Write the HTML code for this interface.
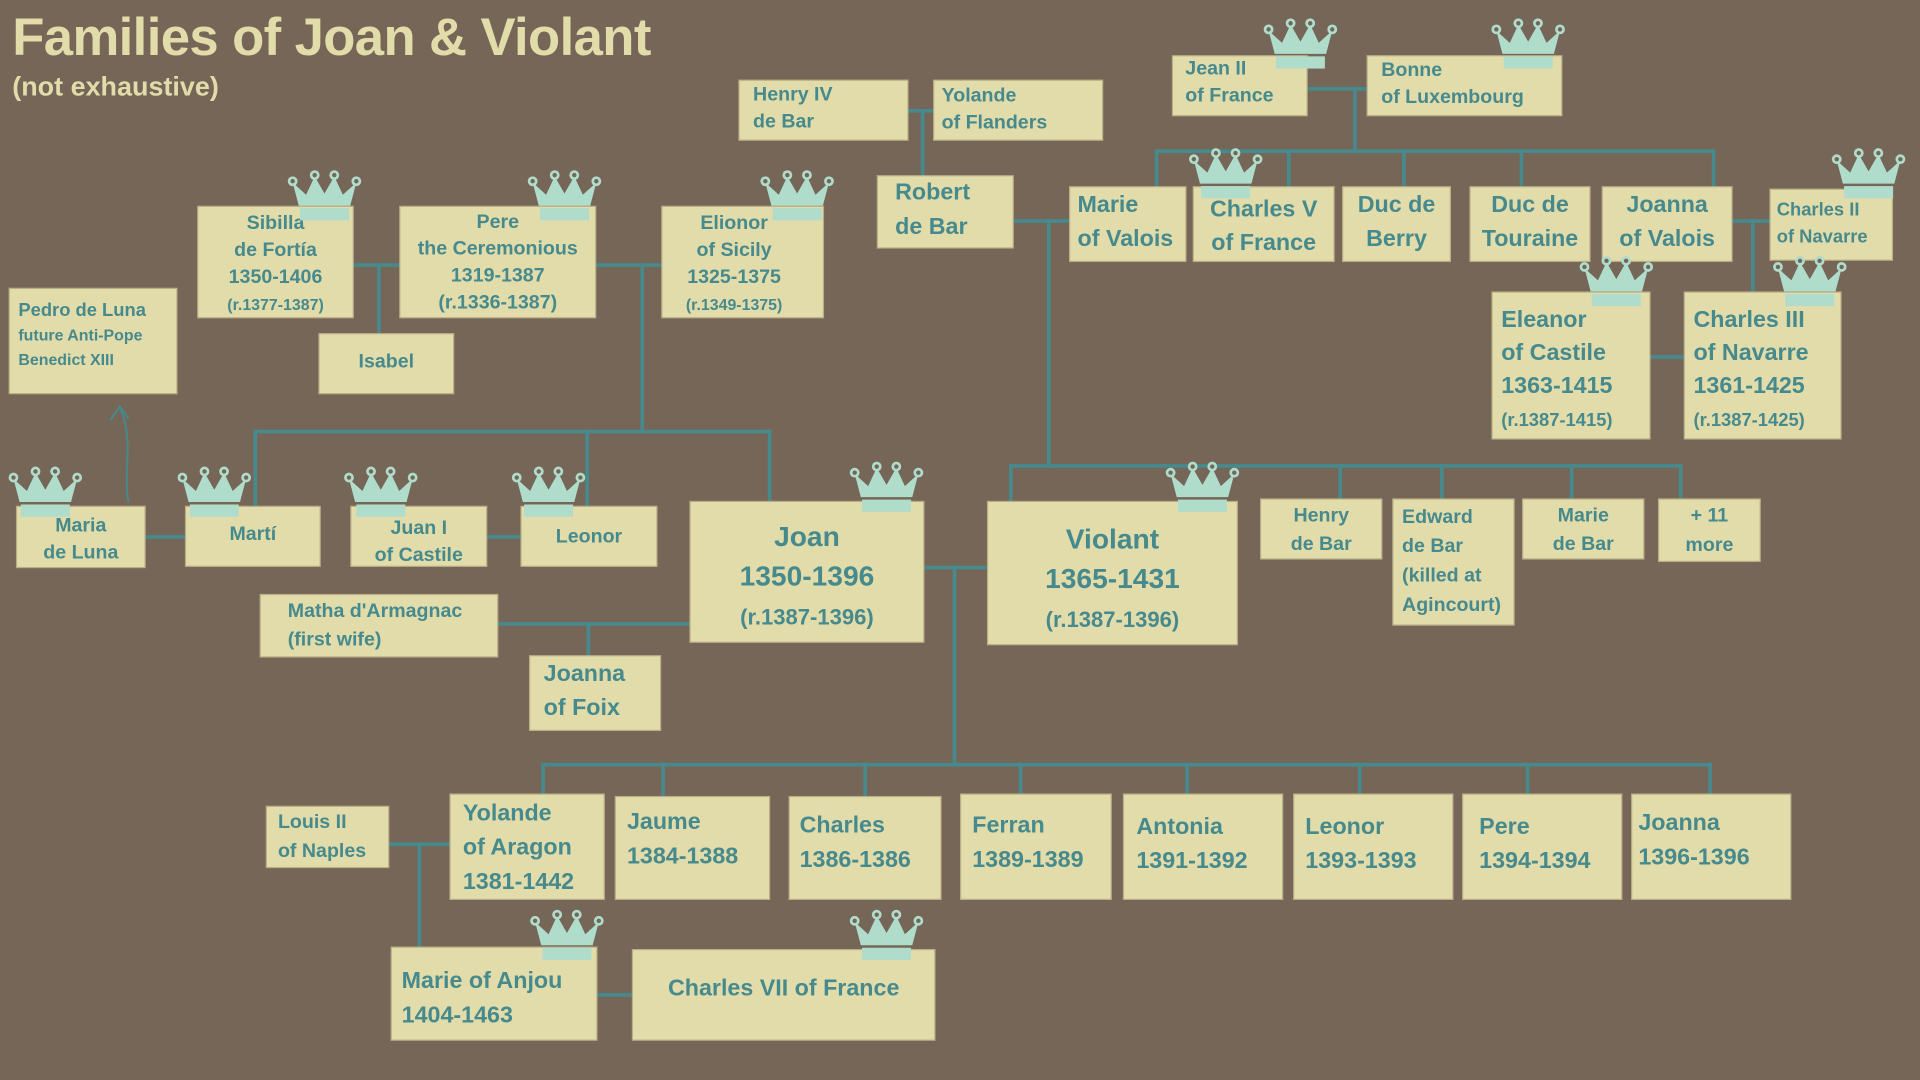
<!DOCTYPE html>
<html><head><meta charset="utf-8"><style>
html,body{margin:0;padding:0;background:#756657;width:1920px;height:1080px;overflow:hidden}
#s{position:absolute;left:0;top:0;width:1568px;height:882px;transform:scale(1.22449);transform-origin:0 0;font-family:"Liberation Sans",sans-serif;font-weight:bold}
.b{position:absolute;background:#e2dcaa;box-shadow:0 0 0 1px #b9ae86;color:#468a8d;box-sizing:border-box;white-space:nowrap;overflow:visible}
.c{text-align:center}
.l{position:absolute;background:#468a8d}
svg.cr{position:absolute;width:62px;height:44px;overflow:visible}
</style></head><body><div id="s">
<svg width="0" height="0" style="position:absolute"><defs><symbol id="cr" viewBox="0 0 62 44"><polygon points="10,30 52,30 57,11 46,21 39,6 31,20 23,6 16,21 5,11" fill="#b0dccc"/><g fill="#b0dccc"><circle cx="5" cy="10" r="4"/><circle cx="23" cy="5" r="4"/><circle cx="39" cy="5" r="4"/><circle cx="57" cy="10" r="4"/></g><g fill="#756657"><circle cx="5" cy="10" r="1.8"/><circle cx="23" cy="5" r="1.8"/><circle cx="39" cy="5" r="1.8"/><circle cx="57" cy="10" r="1.8"/></g><rect x="11" y="32" width="40" height="10" fill="#b0dccc"/></symbol></defs></svg>

<div style="position:absolute;left:10px;top:7px;color:#e2dcaa;font-size:43px;letter-spacing:-0.5px">Families of Joan &amp; Violant</div>
<div style="position:absolute;left:10px;top:58px;color:#e2dcaa;font-size:22px">(not exhaustive)</div>

<!-- lines -->
<div class="l" style="left:741px;top:89px;width:22px;height:3px"></div>
<div class="l" style="left:752px;top:89px;width:3px;height:56px"></div>
<div class="l" style="left:1067px;top:71px;width:50px;height:3px"></div>
<div class="l" style="left:1105px;top:71px;width:3px;height:54px"></div>
<div class="l" style="left:943px;top:122px;width:458px;height:3px"></div>
<div class="l" style="left:943px;top:122px;width:3px;height:32px"></div>
<div class="l" style="left:1051px;top:122px;width:3px;height:32px"></div>
<div class="l" style="left:1145px;top:122px;width:3px;height:32px"></div>
<div class="l" style="left:1241px;top:122px;width:3px;height:32px"></div>
<div class="l" style="left:1398px;top:122px;width:3px;height:32px"></div>
<div class="l" style="left:827px;top:179px;width:47px;height:3px"></div>
<div class="l" style="left:855px;top:179px;width:3px;height:203px"></div>
<div class="l" style="left:824px;top:379px;width:550px;height:3px"></div>
<div class="l" style="left:824px;top:379px;width:3px;height:31px"></div>
<div class="l" style="left:1093px;top:379px;width:3px;height:30px"></div>
<div class="l" style="left:1176px;top:379px;width:3px;height:30px"></div>
<div class="l" style="left:1282px;top:379px;width:3px;height:30px"></div>
<div class="l" style="left:1371px;top:379px;width:3px;height:30px"></div>
<div class="l" style="left:1414px;top:179px;width:32px;height:3px"></div>
<div class="l" style="left:1430px;top:179px;width:3px;height:60px"></div>
<div class="l" style="left:1347px;top:290px;width:29px;height:3px"></div>
<div class="l" style="left:288px;top:215px;width:39px;height:3px"></div>
<div class="l" style="left:308px;top:215px;width:3px;height:58px"></div>
<div class="l" style="left:486px;top:215px;width:55px;height:3px"></div>
<div class="l" style="left:523px;top:215px;width:3px;height:138px"></div>
<div class="l" style="left:207px;top:351px;width:422px;height:3px"></div>
<div class="l" style="left:207px;top:351px;width:3px;height:63px"></div>
<div class="l" style="left:478px;top:351px;width:3px;height:63px"></div>
<div class="l" style="left:627px;top:351px;width:3px;height:59px"></div>
<div class="l" style="left:118px;top:437px;width:34px;height:3px"></div>
<div class="l" style="left:397px;top:437px;width:29px;height:3px"></div>
<div class="l" style="left:406px;top:508px;width:158px;height:3px"></div>
<div class="l" style="left:479px;top:508px;width:3px;height:28px"></div>
<div class="l" style="left:754px;top:462px;width:53px;height:3px"></div>
<div class="l" style="left:778px;top:462px;width:3px;height:164px"></div>
<div class="l" style="left:442px;top:623px;width:956px;height:3px"></div>
<div class="l" style="left:442px;top:623px;width:3px;height:27px"></div>
<div class="l" style="left:540px;top:623px;width:3px;height:28px"></div>
<div class="l" style="left:705px;top:623px;width:3px;height:28px"></div>
<div class="l" style="left:832px;top:623px;width:3px;height:27px"></div>
<div class="l" style="left:968px;top:623px;width:3px;height:27px"></div>
<div class="l" style="left:1109px;top:623px;width:3px;height:27px"></div>
<div class="l" style="left:1246px;top:623px;width:3px;height:27px"></div>
<div class="l" style="left:1395px;top:623px;width:3px;height:27px"></div>
<div class="l" style="left:317px;top:688px;width:51px;height:3px"></div>
<div class="l" style="left:341px;top:688px;width:3px;height:86px"></div>
<div class="l" style="left:487px;top:811px;width:30px;height:3px"></div>
<svg style="position:absolute;left:80px;top:325px" width="40" height="90"><path d="M25,85 C20,60 30,35 18,8" stroke="#468a8d" stroke-width="1.6" fill="none"/><path d="M10,18 L18,7 L25,17" stroke="#468a8d" stroke-width="1.6" fill="none"/></svg>

<!-- boxes -->
<div class="b" style="left:604px;top:66px;width:137px;height:48px;font-size:16px;line-height:22px;padding:1px 0 0 11px">Henry IV<br>de Bar</div>
<div class="b" style="left:763px;top:66px;width:137px;height:48px;font-size:16px;line-height:22px;padding:2px 0 0 6px">Yolande<br>of Flanders</div>
<div class="b" style="left:958px;top:46px;width:109px;height:48px;font-size:16px;line-height:22px;padding:0 0 0 10px">Jean II<br>of France</div>
<div class="b" style="left:1117px;top:46px;width:158px;height:48px;font-size:16px;line-height:22px;padding:1px 0 0 11px">Bonne<br>of Luxembourg</div>
<div class="b" style="left:717px;top:144px;width:110px;height:58px;font-size:19px;line-height:28px;padding:0 0 0 14px">Robert<br>de Bar</div>
<div class="b" style="left:874px;top:153px;width:94px;height:60px;font-size:19px;line-height:28px;padding:1px 0 0 6px">Marie<br>of Valois</div>
<div class="b c" style="left:975px;top:153px;width:114px;height:60px;font-size:19px;line-height:27px;padding-top:5px">Charles V<br>of France</div>
<div class="b c" style="left:1097px;top:153px;width:87px;height:60px;font-size:19px;line-height:28px;padding-top:1px">Duc de<br>Berry</div>
<div class="b c" style="left:1201px;top:153px;width:97px;height:60px;font-size:19px;line-height:28px;padding-top:1px">Duc de<br>Touraine</div>
<div class="b c" style="left:1309px;top:153px;width:105px;height:60px;font-size:19px;line-height:28px;padding-top:1px">Joanna<br>of Valois</div>
<div class="b" style="left:1446px;top:155px;width:99px;height:57px;font-size:15px;line-height:22px;padding:6px 0 0 5px">Charles II<br>of Navarre</div>
<div class="b" style="left:1219px;top:239px;width:128px;height:119px;font-size:19px;line-height:27px;padding:9px 0 0 7px">Eleanor<br>of Castile<br>1363-1415<br><span style="font-size:15px">(r.1387-1415)</span></div>
<div class="b" style="left:1376px;top:239px;width:127px;height:119px;font-size:19px;line-height:27px;padding:9px 0 0 7px">Charles III<br>of Navarre<br>1361-1425<br><span style="font-size:15px">(r.1387-1425)</span></div>
<div class="b c" style="left:162px;top:169px;width:126px;height:90px;font-size:16px;line-height:22px;padding-top:3px">Sibilla<br>de Fortía<br>1350-1406<br><span style="font-size:13px">(r.1377-1387)</span></div>
<div class="b c" style="left:327px;top:169px;width:159px;height:90px;font-size:16px;line-height:22px;padding-top:2px">Pere<br>the Ceremonious<br>1319-1387<br>(r.1336-1387)</div>
<div class="b c" style="left:541px;top:169px;width:131px;height:90px;font-size:16px;line-height:22px;padding:3px 14px 0 0">Elionor<br>of Sicily<br>1325-1375<br><span style="font-size:13px">(r.1349-1375)</span></div>
<div class="b c" style="left:261px;top:273px;width:109px;height:48px;font-size:16px;line-height:46px">Isabel</div>
<div class="b" style="left:8px;top:236px;width:136px;height:85px;font-size:15px;line-height:20px;padding:8px 0 0 7px">Pedro de Luna<br><span style="font-size:13px">future Anti-Pope<br>Benedict XIII</span></div>
<div class="b c" style="left:14px;top:414px;width:104px;height:49px;font-size:16px;line-height:22px;padding-top:5px">Maria<br>de Luna</div>
<div class="b c" style="left:152px;top:414px;width:109px;height:48px;font-size:16px;line-height:46px">Martí</div>
<div class="b c" style="left:287px;top:414px;width:110px;height:48px;font-size:16px;line-height:22px;padding-top:7px">Juan I<br>of Castile</div>
<div class="b c" style="left:426px;top:414px;width:110px;height:48px;font-size:16px;line-height:50px">Leonor</div>
<div class="b c" style="left:564px;top:410px;width:190px;height:114px;font-size:23px;line-height:32px;padding-top:12px">Joan<br>1350-1396<br><span style="font-size:18px">(r.1387-1396)</span></div>
<div class="b c" style="left:807px;top:410px;width:203px;height:116px;font-size:23px;line-height:32px;padding-top:14px">Violant<br>1365-1431<br><span style="font-size:18px">(r.1387-1396)</span></div>
<div class="b c" style="left:1030px;top:408px;width:98px;height:48px;font-size:16px;line-height:23px;padding-top:2px">Henry<br>de Bar</div>
<div class="b" style="left:1138px;top:408px;width:98px;height:102px;font-size:16px;line-height:24px;padding:3px 0 0 7px">Edward<br>de Bar<br>(killed at<br>Agincourt)</div>
<div class="b c" style="left:1244px;top:408px;width:98px;height:48px;font-size:16px;line-height:23px;padding-top:2px">Marie<br>de Bar</div>
<div class="b c" style="left:1355px;top:408px;width:82px;height:50px;font-size:16px;line-height:24px;padding-top:2px">+ 11<br>more</div>
<div class="b" style="left:213px;top:486px;width:193px;height:50px;font-size:16px;line-height:23px;padding:2px 0 0 22px">Matha d'Armagnac<br>(first wife)</div>
<div class="b" style="left:433px;top:536px;width:106px;height:60px;font-size:19px;line-height:28px;padding:1px 0 0 11px">Joanna<br>of Foix</div>
<div class="b" style="left:218px;top:659px;width:99px;height:49px;font-size:16px;line-height:24px;padding:1px 0 0 9px">Louis II<br>of Naples</div>
<div class="b" style="left:368px;top:649px;width:125px;height:85px;font-size:19px;line-height:28px;padding:2px 0 0 10px">Yolande<br>of Aragon<br>1381-1442</div>
<div class="b" style="left:503px;top:651px;width:125px;height:83px;font-size:19px;line-height:28px;padding:7px 0 0 9px">Jaume<br>1384-1388</div>
<div class="b" style="left:645px;top:651px;width:123px;height:83px;font-size:19px;line-height:28px;padding:10px 0 0 8px">Charles<br>1386-1386</div>
<div class="b" style="left:785px;top:649px;width:122px;height:85px;font-size:19px;line-height:28px;padding:12px 0 0 9px">Ferran<br>1389-1389</div>
<div class="b" style="left:918px;top:649px;width:129px;height:85px;font-size:19px;line-height:28px;padding:13px 0 0 10px">Antonia<br>1391-1392</div>
<div class="b" style="left:1057px;top:649px;width:129px;height:85px;font-size:19px;line-height:28px;padding:13px 0 0 9px">Leonor<br>1393-1393</div>
<div class="b" style="left:1195px;top:649px;width:129px;height:85px;font-size:19px;line-height:28px;padding:13px 0 0 13px">Pere<br>1394-1394</div>
<div class="b" style="left:1333px;top:649px;width:129px;height:85px;font-size:19px;line-height:28px;padding:10px 0 0 5px">Joanna<br>1396-1396</div>
<div class="b" style="left:320px;top:774px;width:167px;height:75px;font-size:19px;line-height:28px;padding:14px 0 0 8px">Marie of Anjou<br>1404-1463</div>
<div class="b c" style="left:517px;top:776px;width:246px;height:73px;font-size:19px;line-height:64px">Charles VII of France</div>

<!-- crowns -->
<svg class="cr" style="left:1031px;top:14px"><use href="#cr"/></svg>
<svg class="cr" style="left:1217px;top:14px"><use href="#cr"/></svg>
<svg class="cr" style="left:234px;top:138px"><use href="#cr"/></svg>
<svg class="cr" style="left:430px;top:138px"><use href="#cr"/></svg>
<svg class="cr" style="left:620px;top:138px"><use href="#cr"/></svg>
<svg class="cr" style="left:970px;top:120px"><use href="#cr"/></svg>
<svg class="cr" style="left:1495px;top:120px"><use href="#cr"/></svg>
<svg class="cr" style="left:1289px;top:208px"><use href="#cr"/></svg>
<svg class="cr" style="left:1447px;top:208px"><use href="#cr"/></svg>
<svg class="cr" style="left:6px;top:380px"><use href="#cr"/></svg>
<svg class="cr" style="left:144px;top:380px"><use href="#cr"/></svg>
<svg class="cr" style="left:280px;top:380px"><use href="#cr"/></svg>
<svg class="cr" style="left:417px;top:380px"><use href="#cr"/></svg>
<svg class="cr" style="left:693px;top:376px"><use href="#cr"/></svg>
<svg class="cr" style="left:951px;top:376px"><use href="#cr"/></svg>
<svg class="cr" style="left:432px;top:742px"><use href="#cr"/></svg>
<svg class="cr" style="left:693px;top:742px"><use href="#cr"/></svg>
</div></body></html>
